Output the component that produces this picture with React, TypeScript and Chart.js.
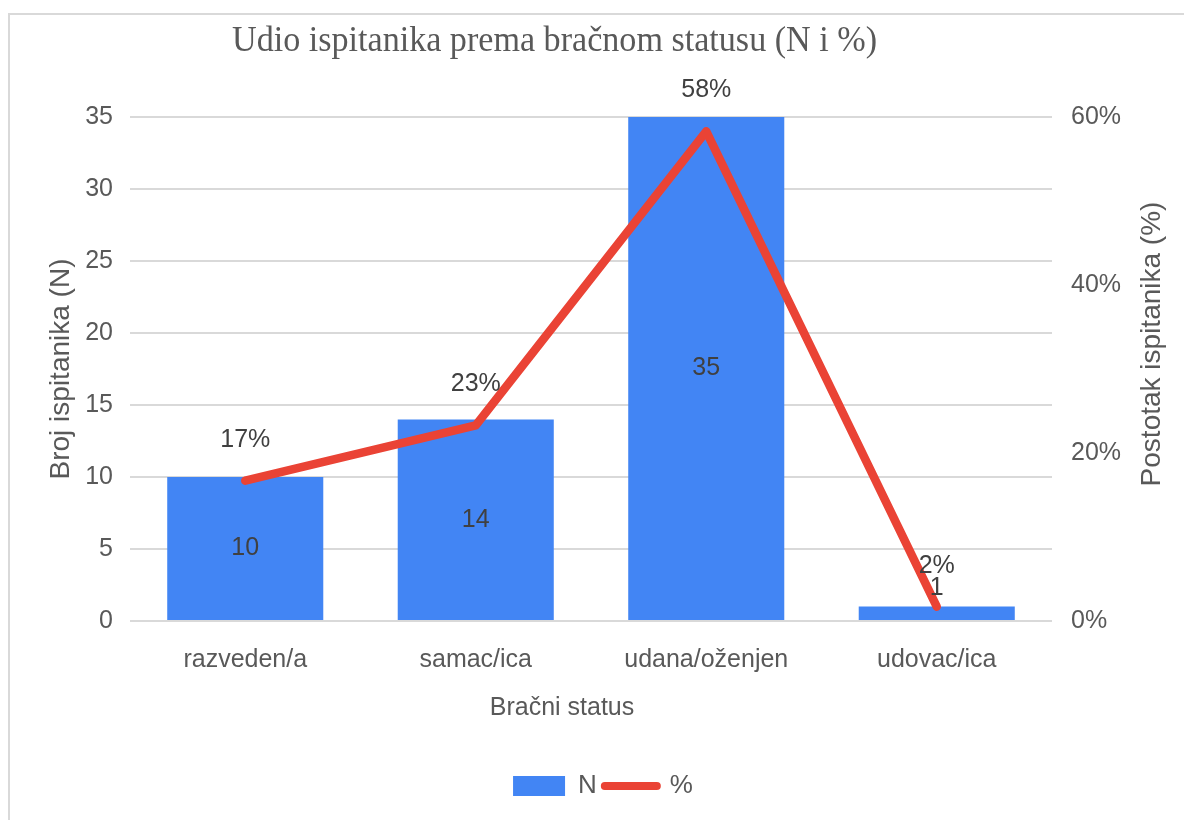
import React, { useEffect, useRef } from 'react';
import { Chart, registerables } from 'chart.js';

Chart.register(...registerables);

const categories = ['razveden/a', 'samac/ica', 'udana/oženjen', 'udovac/ica'];
const counts = [10, 14, 35, 1];
const percents = [16.7, 23.3, 58.3, 1.7];
const leftAxis = { min: 0, max: 35, step: 5 };
const rightAxis = { min: 0, max: 60, step: 20 };

const chartTitle = 'Udio ispitanika prema bračnom statusu (N i %)';
const xTitle = 'Bračni status';
const yTitle = 'Broj ispitanika (N)';
const y1Title = 'Postotak ispitanika (%)';
const legendLabels = ['N', '%'];

const BLUE = '#4285F4';
const RED = '#EA4335';
const TEXT = '#595959';
const LABEL = '#404040';
const SANS = '"Liberation Sans", Arial, sans-serif';
const SERIF = '"Liberation Serif", "Times New Roman", serif';

const labelPlugin = {
  id: 'customLabels',
  afterDatasetsDraw(chart: any) {
    const ctx = chart.ctx;
    ctx.save();
    ctx.font = `25px ${SANS}`;
    ctx.fillStyle = LABEL;
    ctx.textAlign = 'center';
    ctx.textBaseline = 'middle';
    const barMeta = chart.getDatasetMeta(0);
    barMeta.data.forEach((bar: any, i: number) => {
      const { x, y, base } = bar.getProps(['x', 'y', 'base'], true);
      const h = base - y;
      const cy = h > 34 ? (y + base) / 2 : y - 18;
      ctx.fillText(String(counts[i]), x, cy);
    });
    const lineMeta = chart.getDatasetMeta(1);
    lineMeta.data.forEach((pt: any, i: number) => {
      ctx.fillText(Math.round(percents[i]) + '%', pt.x, pt.y - 41);
    });
    ctx.restore();
  },
  afterDraw(chart: any) {
    const ctx = chart.ctx;
    ctx.save();
    // chart title (condensed serif)
    ctx.font = `35px ${SERIF}`;
    ctx.fillStyle = TEXT;
    ctx.textAlign = 'left';
    ctx.textBaseline = 'alphabetic';
    const w = ctx.measureText(chartTitle).width;
    ctx.translate(222, 36);
    ctx.scale(645 / w, 1);
    ctx.fillText(chartTitle, 0, 0);
    ctx.restore();

    ctx.save();
    ctx.font = `25px ${SANS}`;
    ctx.fillStyle = TEXT;
    ctx.textAlign = 'center';
    ctx.textBaseline = 'alphabetic';
    ctx.fillText(xTitle, 552, 700);
    ctx.restore();

    // right axis title, reading bottom-to-top
    ctx.save();
    ctx.font = `28px ${SANS}`;
    ctx.fillStyle = TEXT;
    ctx.textAlign = 'center';
    ctx.textBaseline = 'middle';
    ctx.translate(1142, 329);
    ctx.rotate(-Math.PI / 2);
    ctx.fillText(y1Title, 0, 0);
    ctx.restore();
  },
};

export default function App() {
  const ref = useRef<HTMLCanvasElement>(null);

  useEffect(() => {
    if (!ref.current) return;
    const chart = new Chart(ref.current, {
      type: 'bar',
      data: {
        labels: categories,
        datasets: [
          {
            type: 'bar',
            label: legendLabels[0],
            data: counts,
            backgroundColor: BLUE,
            yAxisID: 'y',
            barPercentage: 0.677,
            categoryPercentage: 1,
            order: 2,
          },
          {
            type: 'line',
            label: legendLabels[1],
            data: percents,
            borderColor: RED,
            backgroundColor: RED,
            borderWidth: 8.5,
            pointRadius: 0,
            pointHoverRadius: 0,
            borderCapStyle: 'round',
            borderJoinStyle: 'round',
            tension: 0,
            yAxisID: 'y1',
            order: 1,
          } as any,
        ],
      },
      options: {
        responsive: false,
        animation: false,
        layout: { padding: { top: 102, left: 12, right: 0, bottom: 1 } },
        plugins: {
          title: { display: false },
          tooltip: { enabled: false },
          legend: {
            display: true,
            position: 'bottom',
            labels: {
              usePointStyle: true,
              pointStyleWidth: 52,
              boxHeight: 20,
              padding: 8,
              color: TEXT,
              font: { size: 26, family: SANS },
              generateLabels: () => [
                {
                  text: legendLabels[0],
                  fillStyle: BLUE,
                  strokeStyle: BLUE,
                  lineWidth: 0,
                  pointStyle: 'rect',
                  datasetIndex: 0,
                  fontColor: TEXT,
                  hidden: false,
                } as any,
                {
                  text: legendLabels[1],
                  fillStyle: RED,
                  strokeStyle: RED,
                  lineWidth: 8,
                  lineCap: 'round',
                  pointStyle: 'line',
                  datasetIndex: 1,
                  fontColor: TEXT,
                  hidden: false,
                } as any,
              ],
            },
          },
        },
        scales: {
          x: {
            offset: true,
            grid: { display: false, drawTicks: false },
            border: { display: false },
            ticks: { color: TEXT, font: { size: 25, family: SANS }, padding: 24, maxRotation: 0 },
            afterFit: (s: any) => { s.height = 144; },
          },
          y: {
            position: 'left',
            min: leftAxis.min,
            max: leftAxis.max,
            ticks: { stepSize: leftAxis.step, color: TEXT, font: { size: 25, family: SANS }, padding: 17 },
            grid: { color: '#d9d9d9', lineWidth: 2, drawTicks: false },
            border: { display: false },
            title: {
              display: true,
              text: yTitle,
              color: TEXT,
              font: { size: 28, family: SANS },
              padding: { top: 22, bottom: 0 },
            },
            afterFit: (s: any) => { s.width = 108; },
          },
          y1: {
            position: 'right',
            min: rightAxis.min,
            max: rightAxis.max,
            ticks: {
              stepSize: rightAxis.step,
              color: TEXT,
              font: { size: 25, family: SANS },
              padding: 19,
              callback: (v: any) => v + '%',
            },
            grid: { display: false, drawTicks: false },
            border: { display: false },
            title: { display: false },
            afterFit: (s: any) => { s.width = 132; },
          },
        },
      } as any,
      plugins: [labelPlugin],
    });
    return () => chart.destroy();
  }, []);

  return (
    <div
      style={{
        position: 'fixed',
        left: 8,
        top: 13,
        width: 1220,
        height: 840,
        borderTop: '2px solid #d9d9d9',
        borderLeft: '2px solid #d9d9d9',
        background: '#fff',
        boxSizing: 'border-box',
      }}
    >
      <canvas ref={ref} width={1174} height={795} style={{ display: 'block', width: 1174, height: 795 }} />
    </div>
  );
}
